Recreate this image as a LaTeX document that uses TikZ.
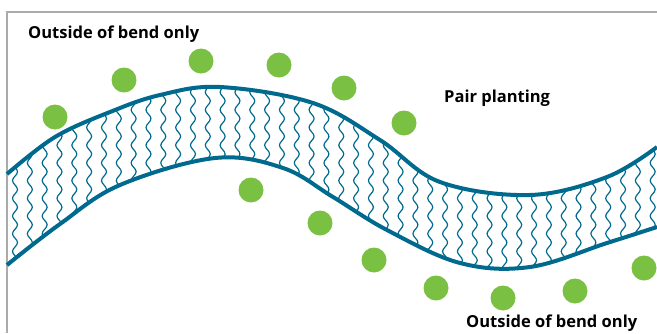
\documentclass[tikz,border=0pt]{standalone}
\usepackage{fontspec}
\setmainfont{Open Sans}
\usepackage{tikz}
\usetikzlibrary{decorations.pathmorphing}
\definecolor{river}{HTML}{006A8E}
\definecolor{plant}{HTML}{7AC143}
\definecolor{framegray}{HTML}{ABABAB}

\begin{document}
\begin{tikzpicture}[x=1pt,y=-1pt,
		plantdot/.style={circle,fill=plant,inner sep=0pt,minimum size=25pt},
		banktext/.style={font=\fontsize{16.5}{19}\selectfont\bfseries,inner sep=0pt,anchor=base west},
		bank/.style={draw=river,line width=4pt},
		ripple/.style={draw=river,line width=1.2pt,decorate,
			decoration={snake,amplitude=2.5pt,segment length=17.7pt}}]
	\useasboundingbox (0,0) rectangle (657,333);
	
	% frame
	\draw[framegray,line width=1.6pt] (7,333) -- (7,12) -- (657,12);
	
	% water ripples between the banks
	\begin{scope}
		\clip plot[smooth,tension=0.6] coordinates {(5,175) (55,137) (110,112) (160,95) (220,87) (313,103) (380,140) (440,182) (530,195) (607,177) (659,146)}
		-- plot[smooth,tension=0.6] coordinates {(659,226) (607,243) (530,267) (460,263) (387,230) (333,197) (283,168) (215,158) (120,185) (60,224) (5,266)} -- cycle;
		\foreach \i in {0,...,44}
			\path[ripple] (15+14.83*\i,60) -- (15+14.83*\i,300);
	\end{scope}
	
	% banks
	\path[bank] plot[smooth,tension=0.6] coordinates {(7,174) (55,137) (110,112) (160,95) (220,87) (313,103) (380,140) (440,182) (530,195) (607,177) (657,147)};
	\path[bank] plot[smooth,tension=0.6] coordinates {(7,265) (60,224) (120,185) (215,158) (283,168) (333,197) (387,230) (460,263) (530,267) (607,243) (657,227)};
	
	% plants
	\foreach \px/\py [count=\n] in {55/117,124/80,201/61,279/65,344/88,404/123,
		251/190,320/223,374/260,436/288,503/298,575/291,644/268}
		\node[plantdot] (plant\n) at (\px,\py) {};
	
	% labels
	\node[banktext] (outsideTop) at (28,38) {Outside of bend only};
	\node[banktext] (pairPlanting) at (444,102) {Pair planting};
	\node[banktext] (outsideBottom) at (466,327) {Outside of bend only};
\end{tikzpicture}
\end{document}
